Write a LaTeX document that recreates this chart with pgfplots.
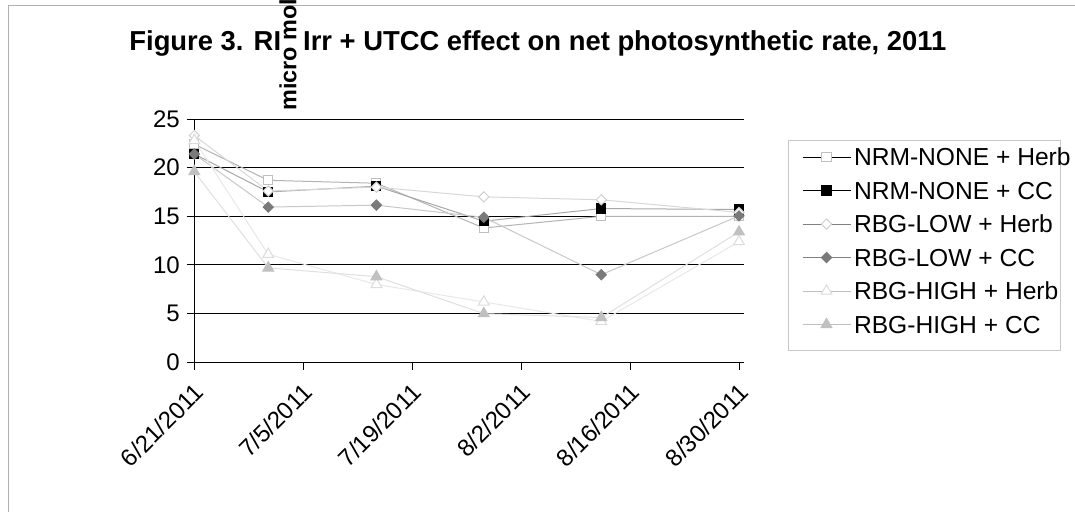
\documentclass[border=0pt]{standalone}
\usepackage{fontspec}
\setmainfont{Liberation Sans}
\usepackage{pgfplots}
\pgfplotsset{compat=1.18}
\definecolor{bordergray}{HTML}{B0B0B0}
\definecolor{leggray}{HTML}{C8C8C8}
\definecolor{l1}{HTML}{B4B4B4}
\definecolor{l2}{HTML}{A8A8A8}
\definecolor{l3}{HTML}{D8D8D8}
\definecolor{l4}{HTML}{C8C8C8}
\definecolor{l5}{HTML}{E8E8E8}
\definecolor{l6}{HTML}{E0E0E0}
\definecolor{m1}{HTML}{C0C0C0}
\definecolor{m3}{HTML}{D0D0D0}
\definecolor{m4}{HTML}{7A7A7A}
\definecolor{m5}{HTML}{DCDCDC}
\definecolor{m6}{HTML}{C0C0C0}
\begin{document}
\begin{tikzpicture}
\useasboundingbox (0,0) rectangle (537.5bp,-256bp);
\fill[white] (0,0) rectangle (537.5bp,-256bp);
\draw[color=bordergray, line width=0.5bp] (4bp,-300bp) -- (4bp,-2.5bp) -- (600bp,-2.5bp);
\draw[color=leggray, line width=0.5bp] (394bp,-70bp) rectangle (530bp,-175bp);
\begin{axis}[
  at={(97.15bp,-181.15bp)}, anchor=south west,
  scale only axis, width=274.85bp, height=121.65bp,
  xmin=0, xmax=70.64, ymin=0, ymax=25,
  axis x line*=bottom, axis y line*=left,
  axis line style={black, line width=0.5bp},
  xtick={0,14,28,42,56,70},
  xticklabels={6/21/2011,7/5/2011,7/19/2011,8/2/2011,8/16/2011,8/30/2011},
  ytick={0,5,10,15,20,25},
  ymajorgrids, grid style={black, line width=0.5bp},
  tick align=outside, major tick length=3.75bp,
  tick style={black, line width=0.5bp},
  ticklabel style={font=\fontsize{12bp}{14bp}\selectfont},
  /pgf/number format/assume math mode=true,
  xticklabel style={xshift=2.5bp, yshift=-9bp, rotate=45, anchor=east, inner sep=0pt},
  clip=false,
  legend style={at={(1.1055,0.879)}, anchor=north west, draw=none, fill=none,
    inner sep=0pt, outer sep=0pt, row sep=8.15bp, column sep=1.5bp,
    font=\fontsize{12.3bp}{14bp}\selectfont,
    nodes={inner sep=0pt, text height=8.6bp, text depth=0bp}},
  legend cell align=left,
  legend image code/.code={\draw[mark repeat=2,mark phase=2,#1] plot coordinates {(0bp,0bp) (12bp,0bp) (24bp,0bp)};},
]
\addplot[color=l1, line width=0.5bp, mark=square*, mark size=2.3bp,
  mark options={fill=white, draw=m1, solid}, legend image post style={black}]
  coordinates {(0,22.4) (9.5,18.7) (23.4,18.4) (37.2,13.8) (52.3,15.0) (70,15.0)};
\addlegendentry{NRM-NONE + Herb}
\addplot[color=l2, line width=0.5bp, mark=square*, mark size=2.3bp,
  mark options={fill=black, draw=black, solid}, legend image post style={black}]
  coordinates {(0,21.4) (9.5,17.5) (23.4,18.1) (37.2,14.5) (52.3,15.8) (70,15.7)};
\addlegendentry{NRM-NONE + CC}
\addplot[color=l3, line width=0.5bp, mark=square*, mark size=1.8bp,
  mark options={fill=white, draw=m3, solid, rotate=45}, legend image post style={black!50}]
  coordinates {(0,23.3) (9.5,17.6) (23.4,18.0) (37.2,17.0) (52.3,16.7) (70,15.4)};
\addlegendentry{RBG-LOW + Herb}
\addplot[color=l4, line width=0.5bp, mark=square*, mark size=1.8bp,
  mark options={fill=m4, draw=m4, solid, rotate=45}, legend image post style={black!50}]
  coordinates {(0,21.4) (9.5,15.95) (23.4,16.15) (37.2,14.9) (52.3,9.0) (70,15.05)};
\addlegendentry{RBG-LOW + CC}
\addplot[color=l5, line width=0.5bp, mark=triangle*, mark size=3.1bp,
  mark options={fill=white, draw=m5, solid}, legend image post style={black!25}]
  coordinates {(0,22.8) (9.5,11.1) (23.4,8.0) (37.2,6.2) (52.3,4.2) (70,12.4)};
\addlegendentry{RBG-HIGH + Herb}
\addplot[color=l6, line width=0.5bp, mark=triangle*, mark size=3.1bp,
  mark options={fill=m6, draw=m6, solid}, legend image post style={black!25}]
  coordinates {(0,19.6) (9.5,9.7) (23.4,8.8) (37.2,5.0) (52.3,4.6) (70,13.4)};
\addlegendentry{RBG-HIGH + CC}
\end{axis}
\node[anchor=base west, inner sep=0pt, font=\bfseries\fontsize{13.7bp}{16bp}\selectfont] at (64.5bp,-25bp)
  {Figure 3. RI\hspace{11bp}Irr + UTCC effect on net photosynthetic rate, 2011};
\node[rotate=90, anchor=mid west, inner sep=0pt, font=\bfseries\fontsize{11.7bp}{14bp}\selectfont] at (145.5bp,-55.5bp)
  {micro mol CO2 m-2 s-1};
\end{tikzpicture}
\end{document}
